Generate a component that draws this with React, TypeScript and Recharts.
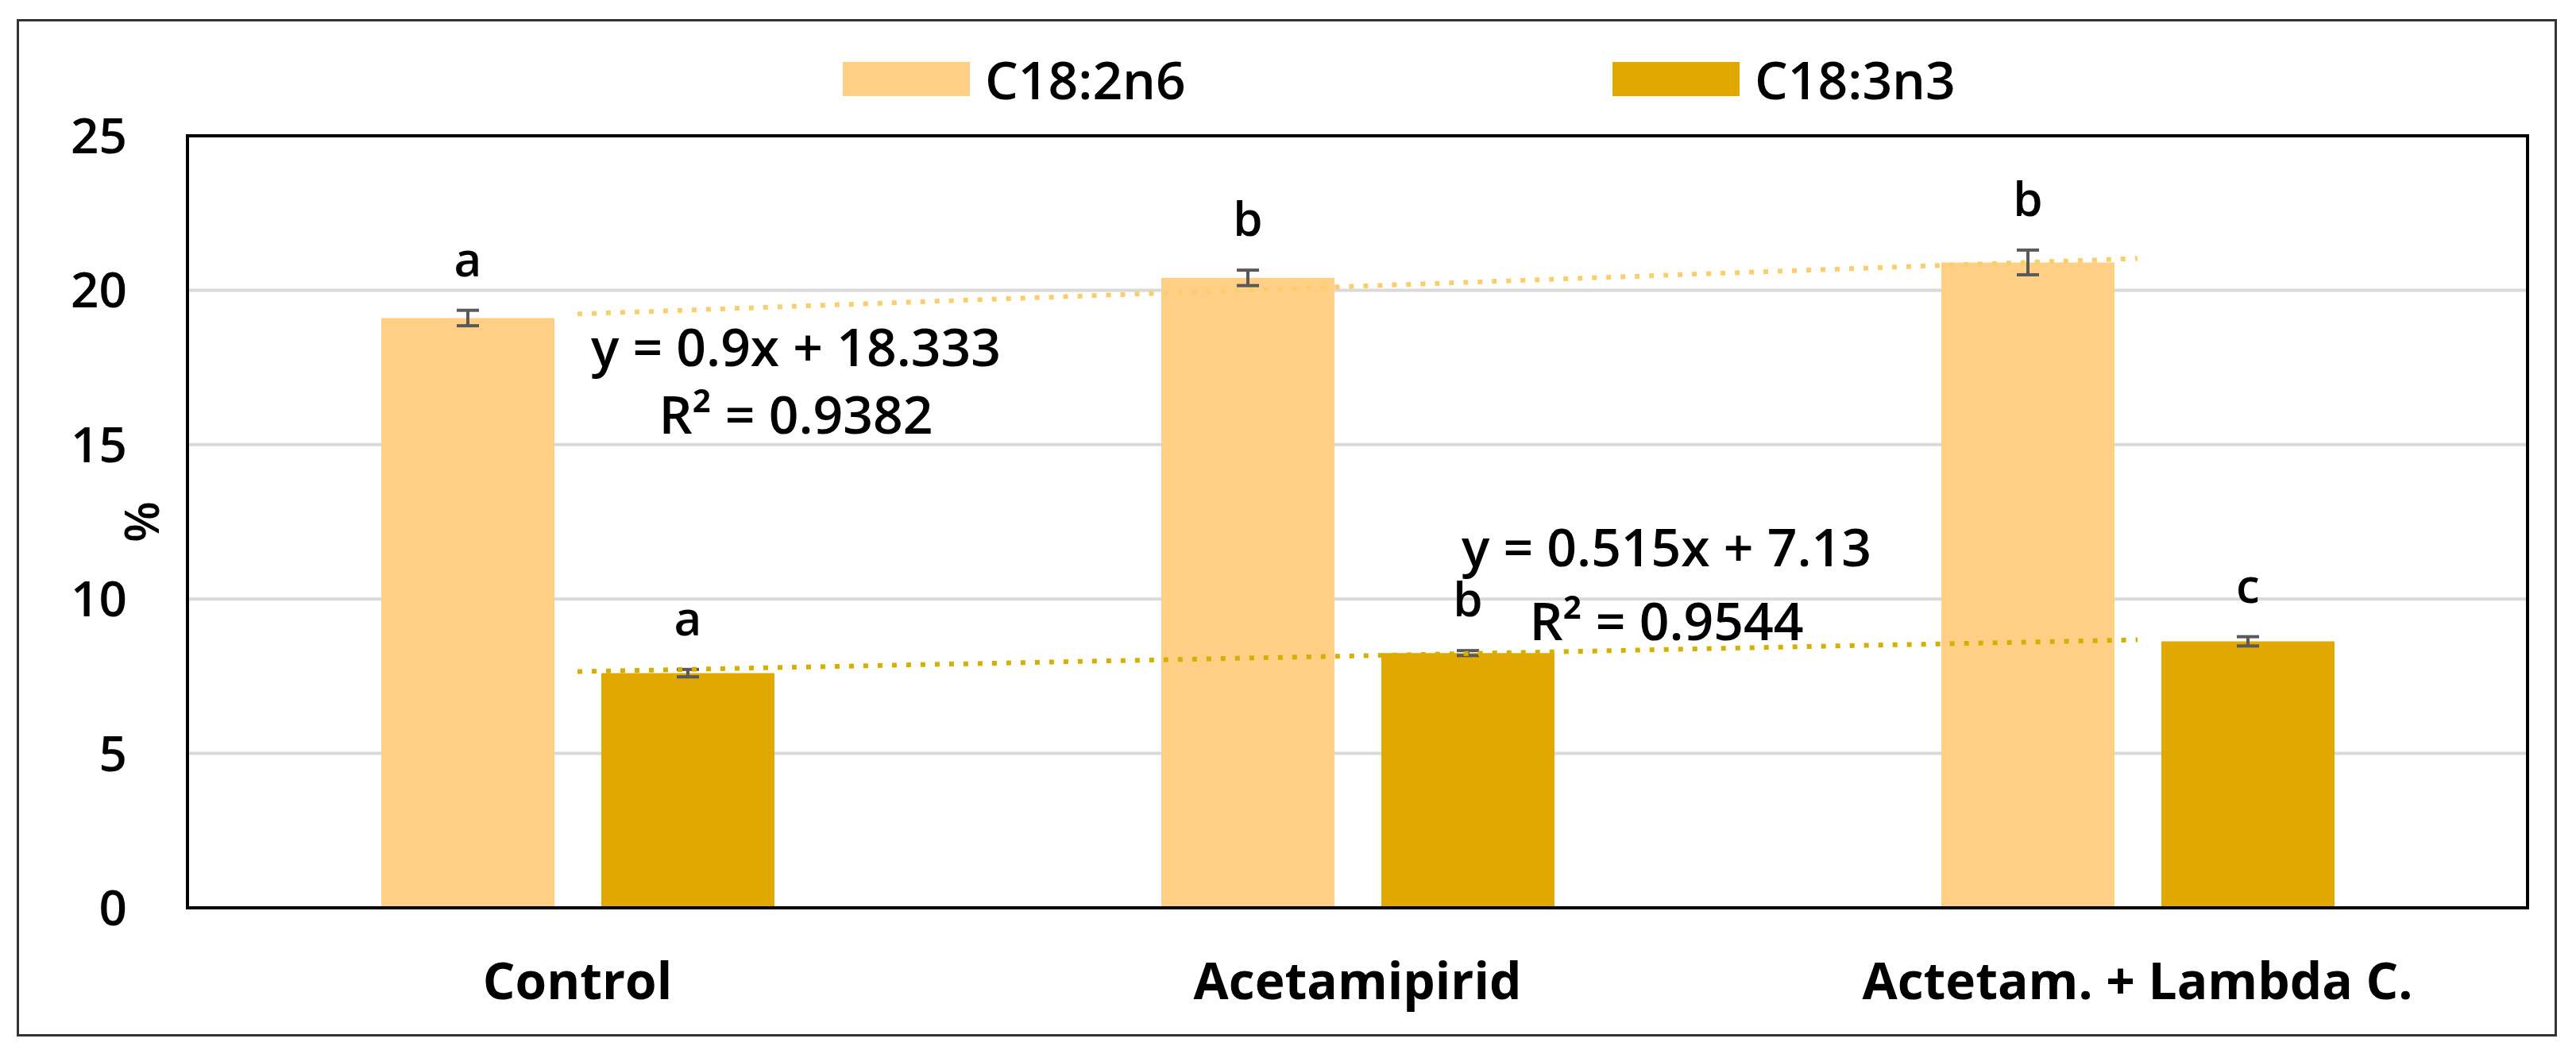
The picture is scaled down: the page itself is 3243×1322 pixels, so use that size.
import React from 'react';
import {
  ComposedChart,
  Bar,
  Line,
  XAxis,
  YAxis,
  CartesianGrid,
  ErrorBar,
  LabelList,
  Legend,
  ReferenceArea,
} from 'recharts';

const categories = ['Control', 'Acetamipirid', 'Actetam. + Lambda C.'];
const c182Values = [19.1, 20.4, 20.9];
const c182Errors = [0.25, 0.25, 0.4];
const c183Values = [7.6, 8.25, 8.63];
const c183Errors = [0.12, 0.08, 0.15];
const c182Letters = ['a', 'b', 'b'];
const c183Letters = ['a', 'b', 'c'];
const trend182 = [19.23, 20.13, 21.03];
const trend183 = [7.65, 8.16, 8.68];
const trend182Text = ['y = 0.9x + 18.333', 'R² = 0.9382'];
const trend183Text = ['y = 0.515x + 7.13', 'R² = 0.9544'];
const yTicks = [0, 5, 10, 15, 20, 25];
const seriesNames = ['C18:2n6', 'C18:3n3'];

const COLOR_182 = '#FFCF86';
const COLOR_183 = '#E0A800';
const TREND_182 = '#F9CF6E';
const TREND_183 = '#D6B000';
const FONT = "'Open Sans', 'DejaVu Sans', sans-serif";

const data = categories.map((name, i) => ({
  name,
  c182: c182Values[i],
  c182Err: c182Errors[i],
  c183: c183Values[i],
  c183Err: c183Errors[i],
  t182: trend182[i],
  t183: trend183[i],
}));

const pick = (props: any) => {
  const vb = props.viewBox || {};
  return {
    x: props.x ?? vb.x,
    y: props.y ?? vb.y,
    width: props.width ?? vb.width ?? 0,
    height: props.height ?? vb.height ?? 0,
  };
};

const makeLetterLabel = (letters: string[], errs: number[], values: number[]) => (props: any) => {
  const { index } = props;
  const { x, y, width, height } = pick(props);
  if (x == null || index == null) return null;
  const pxPerUnit = Math.abs(height) / values[index];
  const top = y - errs[index] * pxPerUnit;
  return (
    <text
      x={x + width / 2}
      y={top - 43}
      textAnchor="middle"
      fontSize={60}
      fontWeight={600}
      fontFamily={FONT}
      fill="#000"
    >
      {letters[index]}
    </text>
  );
};

const makeTrendLabel = (lines: string[], idx: number, dx: number, dy1: number, dy2: number) => (props: any) => {
  const { index } = props;
  const { x, y } = pick(props);
  if (index !== idx || x == null) return null;
  return (
    <g>
      <text x={x + dx} y={y + dy1} textAnchor="middle" dominantBaseline="central" fontSize={66} fontWeight={600} fontFamily={FONT} fill="#000">
        {lines[0]}
      </text>
      <text x={x + dx} y={y + dy2} textAnchor="middle" dominantBaseline="central" fontSize={66} fontWeight={600} fontFamily={FONT} fill="#000">
        {lines[1]}
      </text>
    </g>
  );
};

const renderLegend = (props: any) => {
  const payload = (props.payload || []).filter((p: any) => seriesNames.includes(p.value));
  return (
    <div style={{ display: 'flex', alignItems: 'center' }}>
      {payload.map((p: any, i: number) => (
        <div key={i} style={{ display: 'flex', alignItems: 'center', width: i === 0 ? 969 : 600 }}>
          <div style={{ width: 160, height: 43, background: p.color }} />
          <span style={{ marginLeft: 19, fontSize: 66, lineHeight: '68px', fontWeight: 600, fontFamily: FONT, color: '#000' }}>
            {p.value}
          </span>
        </div>
      ))}
    </div>
  );
};

const PercentLabel = (props: any) => {
  const vb = props.viewBox || {};
  const cx = vb.x + vb.width - 59;
  const cy = vb.y + vb.height / 2;
  return (
    <text
      x={cx}
      y={cy}
      transform={`rotate(-90, ${cx}, ${cy})`}
      textAnchor="middle"
      dominantBaseline="central"
      fontSize={60}
      fontWeight={600}
      fontFamily={FONT}
      fill="#000"
    >
      %
    </text>
  );
};

export default function App() {
  return (
    <div style={{ position: 'absolute', left: 0, top: 0, width: 3243, height: 1322, background: '#fff' }}>
      <div
        style={{
          position: 'absolute',
          left: 21,
          top: 24,
          width: 3192,
          height: 1275,
          border: '3px solid #333',
        }}
      />
      <div style={{ position: 'absolute', left: 0, top: 0 }}>
        <ComposedChart
          width={3243}
          height={1322}
          data={data}
          margin={{ top: 171, right: 61, bottom: 79, left: 21 }}
          barGap={59}
        >
          <CartesianGrid vertical={false} stroke="#d9d9d9" strokeWidth={4} />
          <XAxis
            dataKey="name"
            height={100}
            axisLine={{ stroke: '#000', strokeWidth: 4 }}
            tickLine={false}
            tickSize={0}
            tickMargin={70}
            tick={{ fontSize: 64, fontWeight: 700, fontFamily: FONT, fill: '#000' }}
            interval={0}
          />
          <YAxis
            width={215}
            domain={[0, 25]}
            ticks={yTicks}
            axisLine={{ stroke: '#000', strokeWidth: 4 }}
            tickLine={false}
            tickSize={0}
            tickMargin={76}
            tick={{ fontSize: 62, fontWeight: 600, fontFamily: FONT, fill: '#000' }}
            label={<PercentLabel />}
          />
          <Legend
            layout="horizontal"
            verticalAlign="middle"
            align="center"
            content={renderLegend}
            wrapperStyle={{ left: 1061, top: 65, width: 1600, height: 68 }}
          />
          <Bar dataKey="c182" name={seriesNames[0]} fill={COLOR_182} barSize={218} isAnimationActive={false}>
            <ErrorBar dataKey="c182Err" width={14} strokeWidth={4} stroke="#595959" direction="y" />
            <LabelList dataKey="c182" content={makeLetterLabel(c182Letters, c182Errors, c182Values)} />
          </Bar>
          <Bar dataKey="c183" name={seriesNames[1]} fill={COLOR_183} barSize={218} isAnimationActive={false}>
            <ErrorBar dataKey="c183Err" width={14} strokeWidth={4} stroke="#595959" direction="y" />
            <LabelList dataKey="c183" content={makeLetterLabel(c183Letters, c183Errors, c183Values)} />
          </Bar>
          <Line
            dataKey="t182"
            type="linear"
            stroke={TREND_182}
            strokeWidth={6}
            strokeDasharray="6 12"
            dot={false}
            activeDot={false}
            legendType="none"
            isAnimationActive={false}
          >
            <LabelList dataKey="t182" content={makeTrendLabel(trend182Text, 0, 275, 40, 125)} />
          </Line>
          <Line
            dataKey="t183"
            type="linear"
            stroke={TREND_183}
            strokeWidth={6}
            strokeDasharray="6 12"
            dot={false}
            activeDot={false}
            legendType="none"
            isAnimationActive={false}
          >
            <LabelList dataKey="t183" content={makeTrendLabel(trend183Text, 1, 389, -139, -46)} />
          </Line>
          <ReferenceArea y1={0} y2={25} fill="none" fillOpacity={0} stroke="#000" strokeWidth={4} ifOverflow="visible" />
        </ComposedChart>
      </div>
    </div>
  );
}
